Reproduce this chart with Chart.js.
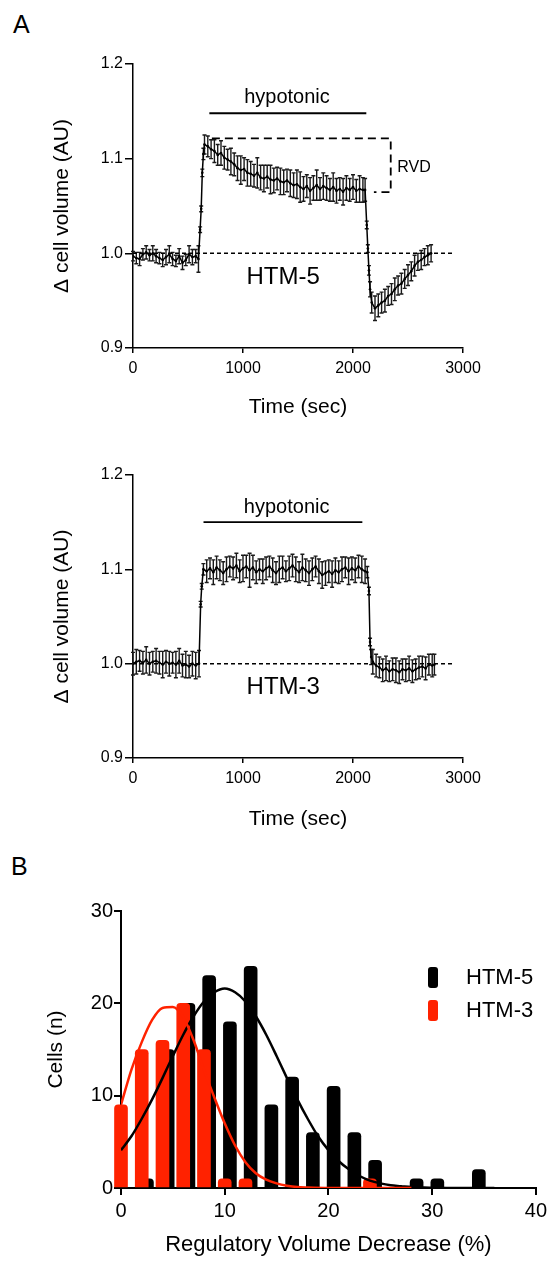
<!DOCTYPE html>
<html>
<head>
<meta charset="utf-8">
<script src="https://cdn.jsdelivr.net/npm/chart.js@4.4.0/dist/chart.umd.min.js"></script>
<style>
  body { margin: 0; background: #fff; width: 551px; height: 1266px; position: relative; overflow: hidden; font-family: 'Liberation Sans', Arial, sans-serif; }
  canvas { position: absolute; left: 0; }
  .panel { position: absolute; font-size: 25px; line-height: 25px; color: #000; }
</style>
</head>
<body>
<div class="panel" style="left:13px;top:12px">A</div>
<div class="panel" style="left:11px;top:854px">B</div>
<canvas id="htm5" width="551" height="430" style="top:0"></canvas>
<canvas id="htm3" width="551" height="410" style="top:430px"></canvas>
<canvas id="rvd" width="551" height="426" style="top:840px"></canvas>
<script>
const FONT = "'Liberation Sans', Arial, sans-serif";
Chart.defaults.font.family = FONT;
Chart.defaults.color = '#000';

// --- HTM-5 volume trace (sec, mean, error) ---
const htm5Time = [
  0, 30, 60, 90, 120, 150, 180, 210, 240, 270,
  300, 330, 360, 390, 420, 450, 480, 510, 540, 570,
  595, 610, 620, 630, 640, 650, 680, 710, 740, 770,
  800, 830, 860, 890, 920, 950, 980, 1010, 1040, 1070,
  1100, 1130, 1160, 1190, 1220, 1250, 1280, 1310, 1340, 1370,
  1400, 1430, 1460, 1490, 1520, 1550, 1580, 1610, 1640, 1670,
  1700, 1730, 1760, 1790, 1820, 1850, 1880, 1910, 1940, 1970,
  2000, 2030, 2060, 2090, 2110, 2125, 2135, 2145, 2155, 2170,
  2200, 2230, 2260, 2290, 2320, 2350, 2380, 2410, 2440, 2470,
  2500, 2530, 2560, 2590, 2620, 2650, 2680, 2710
];
const htm5Mean = [
  0.997, 0.995, 0.994, 0.999, 1.001, 0.998, 1.000, 0.997, 0.995, 0.993,
  0.996, 0.999, 0.994, 0.992, 0.997, 0.990, 0.993, 0.999, 0.996, 0.997,
  0.994, 1.025, 1.047, 1.085, 1.105, 1.115, 1.113, 1.110, 1.108, 1.104,
  1.106, 1.101, 1.099, 1.097, 1.094, 1.090, 1.088, 1.089, 1.085, 1.084,
  1.082, 1.085, 1.080, 1.079, 1.081, 1.078, 1.077, 1.079, 1.076, 1.075,
  1.077, 1.074, 1.072, 1.073, 1.070, 1.068, 1.071, 1.066, 1.069, 1.072,
  1.068, 1.071, 1.069, 1.067, 1.070, 1.066, 1.068, 1.065, 1.069, 1.067,
  1.070, 1.066, 1.068, 1.067, 1.067, 1.030, 1.005, 0.982, 0.962, 0.948,
  0.942, 0.945, 0.948, 0.950, 0.955, 0.957, 0.962, 0.966, 0.968, 0.973,
  0.977, 0.981, 0.987, 0.991, 0.993, 0.996, 0.998, 1.000
];
const htm5Err = [
  0.005, 0.006, 0.007, 0.006, 0.007, 0.006, 0.008, 0.007, 0.006, 0.007,
  0.008, 0.009, 0.007, 0.006, 0.008, 0.007, 0.006, 0.009, 0.008, 0.007,
  0.014, 0.003, 0.003, 0.004, 0.006, 0.010, 0.011, 0.010, 0.012, 0.011,
  0.013, 0.012, 0.011, 0.014, 0.012, 0.013, 0.015, 0.012, 0.014, 0.013,
  0.012, 0.016, 0.013, 0.014, 0.012, 0.015, 0.013, 0.012, 0.014, 0.013,
  0.012, 0.014, 0.013, 0.015, 0.016, 0.013, 0.012, 0.014, 0.013, 0.016,
  0.012, 0.014, 0.013, 0.012, 0.015, 0.013, 0.012, 0.014, 0.013, 0.012,
  0.013, 0.012, 0.014, 0.013, 0.012, 0.004, 0.004, 0.005, 0.008, 0.011,
  0.013, 0.012, 0.011, 0.012, 0.010, 0.011, 0.012, 0.010, 0.011, 0.010,
  0.011, 0.010, 0.011, 0.009, 0.010, 0.009, 0.010, 0.009
];

// --- HTM-3 volume trace ---
const htm3Time = [
  0, 30, 60, 90, 120, 150, 180, 210, 240, 270,
  300, 330, 360, 390, 420, 450, 480, 510, 540, 570,
  600, 615, 625, 640, 670, 700, 730, 760, 790, 820,
  850, 880, 910, 940, 970, 1000, 1030, 1060, 1090, 1120,
  1150, 1180, 1210, 1240, 1270, 1300, 1330, 1360, 1390, 1420,
  1450, 1480, 1510, 1540, 1570, 1600, 1630, 1660, 1690, 1720,
  1750, 1780, 1810, 1840, 1870, 1900, 1930, 1960, 1990, 2020,
  2050, 2080, 2110, 2130, 2145, 2155, 2165, 2180, 2210, 2240,
  2270, 2300, 2330, 2360, 2390, 2420, 2450, 2480, 2510, 2540,
  2570, 2600, 2630, 2660, 2690, 2720, 2740
];
const htm3Mean = [
  1.000, 1.002, 1.003, 1.001, 1.004, 1.000, 1.002, 1.003, 1.001, 0.999,
  1.002, 1.000, 1.001, 0.999, 1.003, 0.998, 0.999, 0.997, 1.000, 0.998,
  1.000, 1.063, 1.082, 1.100, 1.098, 1.101, 1.097, 1.102, 1.099, 1.096,
  1.100, 1.103, 1.101, 1.104, 1.098, 1.101, 1.103, 1.099, 1.102, 1.097,
  1.100, 1.098, 1.101, 1.103, 1.099, 1.096, 1.100, 1.102, 1.098, 1.101,
  1.104, 1.100, 1.097, 1.102, 1.099, 1.096, 1.100, 1.103, 1.098, 1.094,
  1.096, 1.098, 1.095, 1.099, 1.097, 1.100, 1.102, 1.098, 1.101, 1.099,
  1.103, 1.100, 1.098, 1.097, 1.077, 1.023, 1.007, 1.002, 0.998, 0.996,
  0.993, 0.995, 0.992, 0.994, 0.993, 0.991, 0.994, 0.993, 0.995, 0.992,
  0.994, 0.996, 0.997, 0.995, 0.999, 0.998, 0.999
];
const htm3Err = [
  0.012, 0.013, 0.011, 0.012, 0.014, 0.012, 0.011, 0.013, 0.012, 0.014,
  0.012, 0.013, 0.011, 0.014, 0.013, 0.012, 0.014, 0.012, 0.013, 0.014,
  0.014, 0.003, 0.003, 0.006, 0.012, 0.011, 0.013, 0.012, 0.011, 0.012,
  0.013, 0.011, 0.012, 0.013, 0.012, 0.014, 0.012, 0.018, 0.013, 0.012,
  0.011, 0.013, 0.012, 0.011, 0.013, 0.012, 0.014, 0.012, 0.011, 0.013,
  0.012, 0.013, 0.011, 0.014, 0.012, 0.013, 0.012, 0.011, 0.013, 0.014,
  0.013, 0.012, 0.014, 0.013, 0.012, 0.013, 0.011, 0.014, 0.012, 0.013,
  0.012, 0.014, 0.013, 0.006, 0.004, 0.004, 0.008, 0.013, 0.012, 0.011,
  0.012, 0.013, 0.011, 0.012, 0.013, 0.012, 0.011, 0.012, 0.013, 0.012,
  0.011, 0.012, 0.011, 0.012, 0.011, 0.012, 0.011
];

// --- RVD histogram ---
const htm5Bins = [2.5, 4.5, 6.5, 8.5, 10.5, 12.5, 14.5, 16.5, 18.5, 20.5, 22.5, 24.5, 28.5, 30.5, 34.5];
const htm5Cells = [1, 15, 20, 23, 18, 24, 9, 12, 6, 11, 6, 3, 1, 1, 2];
const htm3Bins = [0, 2, 4, 6, 8, 10, 12, 24];
const htm3Cells = [9, 15, 16, 20, 15, 1, 1, 1];

const htm5FitX = [0, 1, 2, 3, 4, 5, 6, 7, 8, 9, 10, 11, 12, 13, 14, 15, 16, 17, 18, 19, 20, 21, 22, 23, 24, 25, 26, 27, 28, 30, 33, 36];
const htm5Fit = [4.1, 5.6, 7.5, 9.6, 11.9, 14.3, 16.6, 18.6, 20.2, 21.2, 21.6, 21.2, 20.2, 18.6, 16.6, 14.3, 11.9, 9.6, 7.5, 5.6, 4.1, 2.9, 2.0, 1.3, 0.8, 0.5, 0.3, 0.2, 0.1, 0.03, 0, 0];
const htm3FitX = [0, 1, 2, 3, 4, 5, 6, 7, 8, 9, 10, 11, 12, 13, 14, 15, 16, 17, 18, 20, 24, 28];
const htm3Fit = [9.0, 12.8, 15.8, 18.2, 19.5, 19.6, 18.5, 16.0, 12.8, 9.8, 7.0, 4.6, 2.8, 1.6, 0.9, 0.5, 0.25, 0.1, 0.05, 0, 0, 0];

const pts = (xs, ys) => xs.map((x, i) => ({ x: x, y: ys[i] }));

// vertical error bars with caps, drawn under the mean line
const errorBars = {
  id: 'errorBars',
  beforeDatasetsDraw(chart) {
    const { ctx, scales: { x, y } } = chart;
    chart.data.datasets.forEach(ds => {
      if (!ds.errors) return;
      ctx.save();
      ctx.strokeStyle = '#1a1a1a';
      ctx.lineWidth = 1.4;
      ds.data.forEach((p, i) => {
        const px = x.getPixelForValue(p.x);
        const hi = y.getPixelForValue(p.y + ds.errors[i]);
        const lo = y.getPixelForValue(p.y - ds.errors[i]);
        ctx.beginPath();
        ctx.moveTo(px, hi); ctx.lineTo(px, lo);
        ctx.moveTo(px - 2, hi); ctx.lineTo(px + 2, hi);
        ctx.moveTo(px - 2, lo); ctx.lineTo(px + 2, lo);
        ctx.stroke();
      });
      ctx.restore();
    });
  }
};

// text labels placed in data units
const notes = {
  id: 'notes',
  afterDatasetsDraw(chart, args, opts) {
    const { ctx, scales: { x, y } } = chart;
    (opts.items || []).forEach(n => {
      ctx.save();
      ctx.font = n.size + 'px ' + FONT;
      ctx.fillStyle = '#000';
      ctx.textAlign = n.align || 'center';
      ctx.textBaseline = 'middle';
      ctx.fillText(n.text, x.getPixelForValue(n.x), y.getPixelForValue(n.y));
      ctx.restore();
    });
  }
};

// stacked legend with rounded swatches
const swatchLegend = {
  id: 'swatchLegend',
  afterDraw(chart, args, opts) {
    if (!opts.items) return;
    const { ctx, chartArea } = chart;
    opts.items.forEach((it, i) => {
      const left = chartArea.left + opts.left;
      const top = chartArea.top + opts.top + i * opts.gap;
      ctx.save();
      ctx.fillStyle = it.color;
      ctx.beginPath();
      ctx.roundRect(left, top, 10, 21, 3);
      ctx.fill();
      ctx.fillStyle = '#000';
      ctx.font = '22px ' + FONT;
      ctx.textAlign = 'left';
      ctx.textBaseline = 'middle';
      ctx.fillText(it.text, left + 38, top + 11);
      ctx.restore();
    });
  }
};

function axisStyle(width) {
  return {
    grid: { drawOnChartArea: false, color: '#000', tickColor: '#000', lineWidth: width },
    border: { color: '#000', width: width }
  };
}

function volumeChart(id, times, means, errs, padTop, titlePad, extras, items) {
  const xs = axisStyle(1.5), ys = axisStyle(1.5);
  return new Chart(document.getElementById(id), {
    type: 'line',
    data: {
      datasets: [
        {
          data: pts(times, means), errors: errs,
          borderColor: '#000', borderWidth: 1.5,
          pointRadius: 1.3, pointBackgroundColor: '#000', pointBorderWidth: 0,
          order: 0
        }
      ].concat(extras)
    },
    options: {
      responsive: false, animation: false, events: [],
      layout: { padding: { top: padTop, right: 88, left: 0, bottom: 0 } },
      scales: {
        x: {
          type: 'linear', min: 0, max: 3000,
          ticks: { stepSize: 1000, font: { size: 16 }, padding: 6, callback: v => String(v) },
          grid: Object.assign(xs.grid, { tickLength: 5 }), border: xs.border,
          title: { display: true, text: 'Time (sec)', font: { size: 21 }, padding: { top: 0, bottom: titlePad } },
          afterFit: s => { s.height = 82; }
        },
        y: {
          min: 0.9, max: 1.2,
          ticks: { stepSize: 0.1, font: { size: 16 }, padding: 2, callback: v => v.toFixed(1) },
          grid: Object.assign(ys.grid, { tickLength: 8 }), border: ys.border,
          title: { display: true, text: 'Δ cell volume (AU)', font: { size: 21 }, padding: { top: 50, bottom: 0 } },
          afterFit: s => { s.width = 133; }
        }
      },
      plugins: { legend: { display: false }, tooltip: { enabled: false }, notes: { items: items } }
    },
    plugins: [errorBars, notes]
  });
}

const guide = (data, dash, width) => ({
  data: data, borderColor: '#000', borderWidth: width, borderDash: dash,
  pointRadius: 0, order: 5
});

volumeChart('htm5', htm5Time, htm5Mean, htm5Err, 64, 10, [
  guide([{ x: 0, y: 1 }, { x: 2900, y: 1 }], [4, 3], 1.5),
  guide([{ x: 694, y: 1.148 }, { x: 2121, y: 1.148 }], [], 1.8),
  guide([{ x: 717, y: 1.1215 }, { x: 2343, y: 1.1215 }, { x: 2343, y: 1.0646 }, { x: 2190, y: 1.0646 }], [8, 5], 1.8)
], [
  { text: 'hypotonic', x: 1400, y: 1.165, size: 20 },
  { text: 'RVD', x: 2403, y: 1.091, size: 16, align: 'left' },
  { text: 'HTM-5', x: 1365, y: 0.975, size: 24 }
]);

volumeChart('htm3', htm3Time, htm3Mean, htm3Err, 45, 8, [
  guide([{ x: 0, y: 1 }, { x: 2900, y: 1 }], [4, 3], 1.5),
  guide([{ x: 641, y: 1.150 }, { x: 2085, y: 1.150 }], [], 1.8)
], [
  { text: 'hypotonic', x: 1397, y: 1.166, size: 20 },
  { text: 'HTM-3', x: 1366, y: 0.975, size: 24 }
]);

const hx = axisStyle(2), hy = axisStyle(2);
new Chart(document.getElementById('rvd'), {
  type: 'bar',
  data: {
    datasets: [
      { type: 'line', label: 'HTM-3 fit', data: pts(htm3FitX, htm3Fit), borderColor: '#ff2200', borderWidth: 2.5,
        pointRadius: 0, cubicInterpolationMode: 'monotone', order: 0 },
      { type: 'line', label: 'HTM-5 fit', data: pts(htm5FitX, htm5Fit), borderColor: '#000', borderWidth: 2.5,
        pointRadius: 0, cubicInterpolationMode: 'monotone', order: 1 },
      { label: 'HTM-3', data: pts(htm3Bins, htm3Cells), backgroundColor: '#ff2200', barThickness: 13,
        borderRadius: 4, grouped: false, clip: false, order: 2 },
      { label: 'HTM-5', data: pts(htm5Bins, htm5Cells), backgroundColor: '#000', barThickness: 13,
        borderRadius: 4, grouped: false, clip: false, order: 3 }
    ]
  },
  options: {
    responsive: false, animation: false, events: [],
    layout: { padding: { top: 71, right: 13, left: 0, bottom: 0 } },
    scales: {
      x: {
        type: 'linear', min: 0, max: 40, offset: false,
        ticks: { stepSize: 10, font: { size: 20 }, padding: 4 },
        grid: Object.assign(hx.grid, { tickLength: 7, offset: false }), border: hx.border,
        title: { display: true, text: 'Regulatory Volume Decrease (%)', font: { size: 22 }, padding: { top: 0, bottom: 8 } },
        afterFit: s => { s.height = 78; }
      },
      y: {
        min: 0, max: 30,
        ticks: { stepSize: 10, font: { size: 20 }, padding: 1 },
        grid: Object.assign(hy.grid, { tickLength: 7 }), border: hy.border,
        title: { display: true, text: 'Cells (n)', font: { size: 21 }, padding: { top: 44, bottom: 0 } },
        afterFit: s => { s.width = 121; }
      }
    },
    plugins: {
      legend: { display: false }, tooltip: { enabled: false },
      swatchLegend: { left: 307, top: 56, gap: 33, items: [
        { text: 'HTM-5', color: '#000' },
        { text: 'HTM-3', color: '#ff2200' }
      ] }
    }
  },
  plugins: [swatchLegend]
});
</script>
</body>
</html>
